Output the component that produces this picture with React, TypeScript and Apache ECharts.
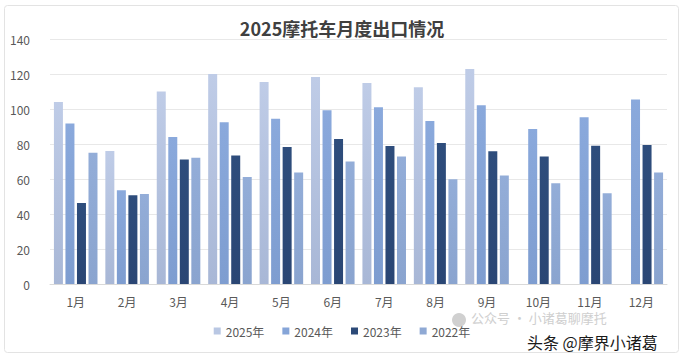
import React, { useEffect, useRef } from "react";
import * as echarts from "echarts";

const months = ["1月", "2月", "3月", "4月", "5月", "6月", "7月", "8月", "9月", "10月", "11月", "12月"];
const s2025: (number | null)[] = [104, 76, 110, 120, 115.4, 118.3, 114.8, 112.5, 122.9, null, null, null];
const s2024 = [91.7, 53.6, 84, 92.4, 94.4, 99.3, 101, 93.2, 102.2, 88.6, 95.3, 105.5];
const s2023 = [46.3, 50.7, 71.2, 73.5, 78.3, 82.9, 78.9, 80.6, 75.8, 72.9, 79, 79.4];
const s2022 = [75, 51.5, 72.2, 61.2, 63.7, 70, 72.9, 59.9, 62, 57.6, 51.9, 63.7];
const seriesNames = ["2025年", "2024年", "2023年", "2022年"];

const grad = (top: string, bottom: string) =>
  new echarts.graphic.LinearGradient(0, 0, 0, 1, [
    { offset: 0, color: top },
    { offset: 1, color: bottom },
  ]);

export default function App() {
  const ref = useRef<HTMLDivElement>(null);
  useEffect(() => {
    if (!ref.current) return;
    const chart = echarts.init(ref.current, undefined, { renderer: "svg" });
    const font = "'Noto Sans CJK SC', 'Noto Sans', sans-serif";
    const colors = ["#b9c7e3", "#86a5d8", "#2c4a78", "#8fa9d4"];
    const fills = [
      grad("#bfcce7", "#a8b7d6"),
      grad("#8aa9dc", "#7e9dd0"),
      grad("#2e4d7c", "#2a4674"),
      grad("#93add8", "#8aa4cf"),
    ];
    const data = [s2025, s2024, s2023, s2022];
    chart.setOption({
      animation: false,
      backgroundColor: "#ffffff",
      textStyle: { fontFamily: font },
      title: {
        text: "2025摩托车月度出口情况",
        left: "center",
        top: 14,
        textStyle: { fontFamily: font, fontSize: 18, fontWeight: "bold", color: "#404040" },
      },
      legend: {
        bottom: 17,
        left: "center",
        itemWidth: 7,
        itemHeight: 7,
        itemGap: 18,
        icon: "rect",
        textStyle: { fontFamily: font, fontSize: 12, color: "#595959" },
        data: seriesNames.map((n, i) => ({ name: n, itemStyle: { color: colors[i] } })),
      },
      grid: { left: 50, right: 17, top: 39, bottom: 75 },
      xAxis: {
        type: "category",
        data: months,
        axisLine: { lineStyle: { color: "#d9d9d9" } },
        axisTick: { show: false },
        axisLabel: { fontFamily: font, fontSize: 12, color: "#595959", margin: 11 },
      },
      yAxis: {
        type: "value",
        min: 0,
        max: 140,
        interval: 20,
        axisLine: { show: false },
        axisTick: { show: false },
        splitLine: { lineStyle: { color: "#e8e8e8" } },
        axisLabel: { fontFamily: font, fontSize: 12, color: "#595959", margin: 20 },
      },
      series: seriesNames.map((n, i) => ({
        name: n,
        type: "bar",
        data: data[i],
        barWidth: 9,
        barGap: "28%",
        itemStyle: { color: fills[i] },
      })),
      graphic: [
        {
          type: "rect",
          shape: { x: 4.5, y: 5.5, width: 674, height: 347, r: 3 },
          style: { fill: "none", stroke: "#e3e3e3", lineWidth: 1 },
          silent: true,
        },
        {
          type: "circle",
          shape: { cx: 459, cy: 320, r: 7 },
          style: { fill: "#d0d0d0" },
          silent: true,
        },
        {
          type: "text",
          left: 471,
          top: 311,
          style: { text: "公众号 · 小诸葛聊摩托", fontFamily: font, fontSize: 13, fill: "#cfcfcf" },
          silent: true,
        },
        {
          type: "text",
          left: 527,
          top: 334,
          style: { text: "头条 @摩界小诸葛", fontFamily: font, fontSize: 16, fill: "#1a1a1a" },
          silent: true,
        },
      ],
    });
    return () => chart.dispose();
  }, []);
  return (
    <div
      ref={ref}
      style={{ position: "absolute", left: 0, top: 0, width: 684, height: 359 }}
    />
  );
}
